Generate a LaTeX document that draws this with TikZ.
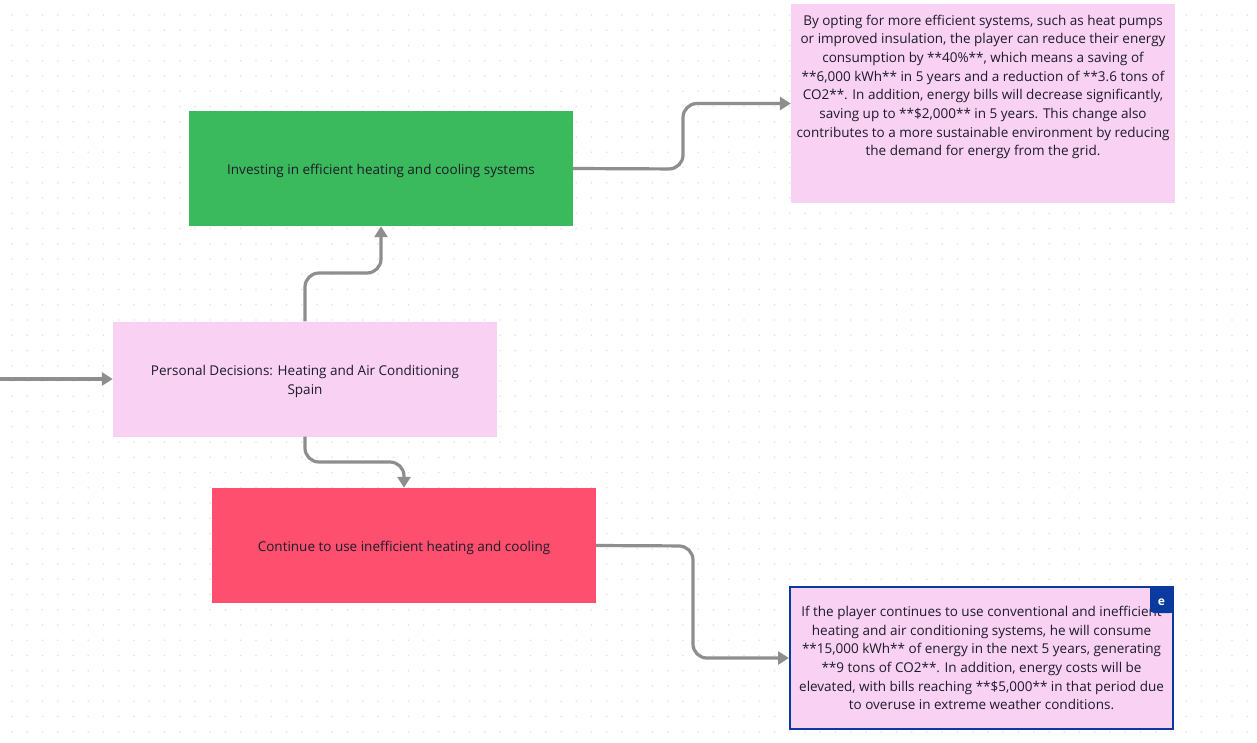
\documentclass[tikz,border=0pt]{standalone}
\usepackage{fontspec}
\setmainfont{Open Sans}
\usetikzlibrary{arrows.meta}
\definecolor{bggray}{HTML}{E2E2E2}
\definecolor{boxgreen}{HTML}{3BB95D}
\definecolor{boxpink}{HTML}{F9D1F3}
\definecolor{boxred}{HTML}{FF4F6F}
\definecolor{linegray}{HTML}{8E8E8E}
\definecolor{txt}{HTML}{1C1C28}
\definecolor{selblue}{HTML}{0A3A9E}
\newcommand{\tpstrut}{\rule{0pt}{15pt}}
\tikzset{
  box/.style={draw=none, minimum width=384pt, minimum height=115pt, inner sep=0pt, text=txt,
    font=\fontsize{13.5}{18.7}\selectfont, align=center},
  longtext/.style={text=txt, font=\fontsize{13.5}{18.7}\selectfont, align=center, inner sep=0pt},
  conn/.style={draw=linegray, line width=3.2pt, rounded corners=14pt,
    -{Triangle[length=11pt,width=13pt]}},
}
\begin{document}
\begin{tikzpicture}[x=1pt,y=-1pt]
\fill[white] (0,0) rectangle (1257,742);
\useasboundingbox (0,0) rectangle (1257,742);
\foreach \i in {0,...,82}{
  \foreach \j in {0,...,48}{
    \fill[bggray] ({12+15.25*\i},{15+15.25*\j}) circle (0.8pt);
  }
}
\node[box, fill=boxgreen] (green) at (381,168.5) {\tpstrut Investing in efficient heating and cooling systems};
\node[box, fill=boxpink] (pd) at (305,379) {\tpstrut Personal Decisions: Heating and Air Conditioning\\Spain};
\node[box, fill=boxred] (red) at (404,545.5) {\tpstrut Continue to use inefficient heating and cooling};
\node[box, fill=boxpink, minimum height=199pt] (topbox) at (983,103.5) {};
\node[longtext, anchor=north] (toptext) at (983,14.5) {By opting for more efficient systems, such as heat pumps\\or improved insulation, the player can reduce their energy\\consumption by **40\%**, which means a saving of\\**6,000 kWh** in 5 years and a reduction of **3.6 tons of\\CO2**. In addition, energy bills will decrease significantly,\\saving up to **\$2,000** in 5 years. This change also\\contributes to a more sustainable environment by reducing\\the demand for energy from the grid.};
\node[box, fill=boxpink, draw=selblue, line width=2pt, minimum width=383pt, minimum height=142pt] (botbox) at (981.5,658) {If the player continues to use conventional and inefficient\\heating and air conditioning systems, he will consume\\**15,000 kWh** of energy in the next 5 years, generating\\**9 tons of CO2**. In addition, energy costs will be\\elevated, with bills reaching **\$5,000** in that period due\\to overuse in extreme weather conditions.};
\fill[selblue, rounded corners=4pt] (1173,587) -- (1150,587) -- (1150,613) -- (1173,613) [sharp corners] -- cycle;
\fill[selblue] (1150,587) rectangle (1160,600);
\fill[selblue] (1162,603) rectangle (1173,613);
\node[text=white, font=\bfseries\fontsize{12}{14}\selectfont, inner sep=0pt] (badge) at (1161.5,602) {e};
\coordinate (in) at (0,379);
\draw[conn] (in) -- (pd.west);
\draw[conn] (pd.north) -- (305,273) -| (green.south);
\draw[conn] (pd.south) -- (305,462) -| (red.north);
\draw[conn] (green.east) -- (683,169) |- (topbox.west);
\draw[conn] (red.east) -- (693,546) |- (botbox.west);
\end{tikzpicture}
\end{document}
